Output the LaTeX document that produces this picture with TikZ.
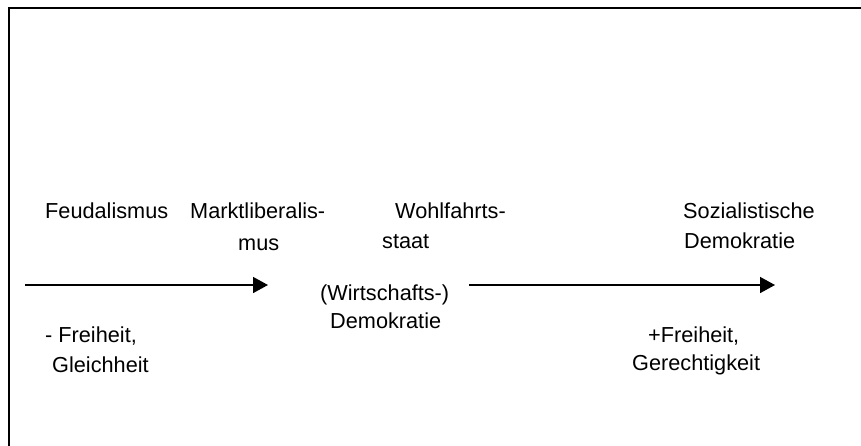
\documentclass[tikz,border=0pt]{standalone}
\usepackage{fontspec}
\setmainfont{Liberation Sans}
\usetikzlibrary{arrows.meta}

\begin{document}
\begin{tikzpicture}[x=1pt,y=-1pt,
  lbl/.style={anchor=base west,inner sep=0pt,font=\fontsize{21.7}{26}\selectfont},
  pfeil/.style={line width=1.6pt,-{Triangle[length=15pt,width=16pt]}}]
 \useasboundingbox (0,0) rectangle (861,445);
 % Rahmen
 \draw[line width=1.4pt] (9,450) -- (9,8) -- (866,8);
 % obere Reihe
 \node[lbl] (feud)   at (45,218)  {Feudalismus};
 \node[lbl] (markt1) at (190,218) {Marktliberalis-};
 \node[lbl] (markt2) at (238,250) {mus};
 \node[lbl] (wohl1)  at (395,218) {Wohlfahrts-};
 \node[lbl] (wohl2)  at (382,248) {staat};
 \node[lbl] (sozi1)  at (683,218) {Sozialistische};
 \node[lbl] (sozi2)  at (684,248) {Demokratie};
 % Mitte
 \node[lbl] (wirt1)  at (320,300) {(Wirtschafts-)};
 \node[lbl] (wirt2)  at (330,328) {Demokratie};
 % untere Reihe
 \node[lbl] (minus1) at (45,342)  {- Freiheit,};
 \node[lbl] (minus2) at (52,372)  {Gleichheit};
 \node[lbl] (plus1)  at (648,342) {+Freiheit,};
 \node[lbl] (plus2)  at (632,370) {Gerechtigkeit};
 % Pfeile
 \coordinate (a1) at (25,285);
 \coordinate (b1) at (268,285);
 \coordinate (a2) at (469,285);
 \coordinate (b2) at (775,285);
 \draw[pfeil] (a1) -- (b1);
 \draw[pfeil] (a2) -- (b2);
\end{tikzpicture}
\end{document}
